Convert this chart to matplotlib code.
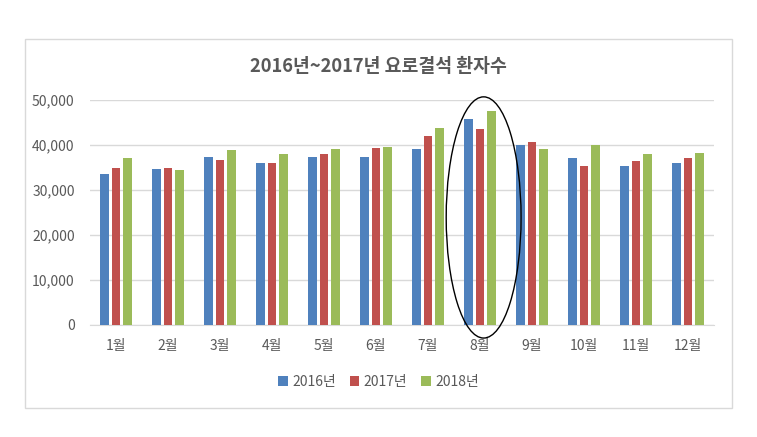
import matplotlib
matplotlib.use("Agg")
import matplotlib.pyplot as plt
from matplotlib.patches import Ellipse, Rectangle
import numpy as np

plt.rcParams['font.family'] = ['Noto Sans CJK KR', 'DejaVu Sans']

months = ['1월', '2월', '3월', '4월', '5월', '6월', '7월', '8월', '9월', '10월', '11월', '12월']
v2016 = [33600, 34600, 37400, 35900, 37400, 37400, 39100, 45800, 39900, 37000, 35400, 35900]
v2017 = [34800, 34800, 36700, 35900, 38000, 39300, 41900, 43500, 40600, 35400, 36500, 37200]
v2018 = [37200, 34400, 38800, 38000, 39100, 39500, 43700, 47600, 39100, 39900, 38000, 38200]
series_names = ['2016년', '2017년', '2018년']
colors = ['#4F81BD', '#C0504D', '#9BBB59']
title = '2016년~2017년 요로결석 환자수'
yticks = [0, 10000, 20000, 30000, 40000, 50000]

W, H = 757, 437
fig = plt.figure(figsize=(W / 100, H / 100), dpi=100)
fig.patch.set_facecolor('white')

# chart border
fig.patches.append(Rectangle((25 / W, 1 - 408 / H), (732 - 25) / W, (408 - 39) / H,
                             transform=fig.transFigure, fill=False,
                             edgecolor='#D9D9D9', linewidth=1))

ax = fig.add_axes([90 / W, 1 - 325 / H, (714 - 90) / W, (325 - 100) / H])
x = np.arange(len(months))
step = 0.224
width = 0.168
for i, (vals, name, c) in enumerate(zip([v2016, v2017, v2018], series_names, colors)):
    ax.bar(x + (i - 1) * step, vals, width=width, color=c, label=name, zorder=3)

ax.set_xlim(-0.5, len(months) - 0.5)
ax.set_ylim(0, 50000)
ax.set_yticks(yticks)
ax.set_yticklabels([f'{v:,}' for v in yticks])
ax.set_xticks(x)
ax.set_xticklabels(months)
ax.grid(axis='y', color='#D9D9D9', linewidth=1, zorder=0)
for s in ['top', 'right', 'left']:
    ax.spines[s].set_visible(False)
ax.spines['bottom'].set_color('#D9D9D9')
ax.tick_params(axis='both', length=0, colors='#595959', labelsize=10)
ax.tick_params(axis='y', pad=11)
ax.tick_params(axis='x', pad=10)

# highlight ellipse around August
ell = Ellipse((7.07, 23900), width=1.44, height=53600, fill=False,
              edgecolor='black', linewidth=1, clip_on=False, zorder=5)
ax.add_patch(ell)

fig.text(0.5 * (25 + 732) / W, 1 - 67 / H, title, ha='center', va='center',
         fontsize=13.2, fontweight='bold', color='#595959')

handles, labels = ax.get_legend_handles_labels()
fig.legend(handles, labels, loc='center', bbox_to_anchor=(0.5 * (25 + 732) / W, 1 - 382 / H),
           ncol=3, frameon=False, fontsize=10, handlelength=0.7, handleheight=0.7,
           handletextpad=0.3, columnspacing=1.0, labelcolor='#595959')

fig.savefig('out.png', dpi=100)
